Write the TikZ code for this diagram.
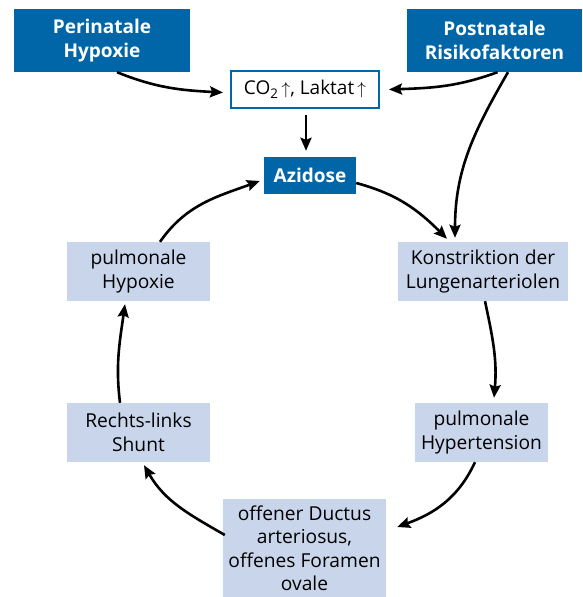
\documentclass[tikz,border=0pt]{standalone}
\usepackage{fontspec}
\setmainfont{Open Sans}
\usetikzlibrary{arrows.meta}
\definecolor{dblue}{HTML}{0066A8}
\definecolor{lblue}{HTML}{C9D5EA}
\begin{document}
\begin{tikzpicture}[x=1pt,y=-1pt,
  dark/.style={fill=dblue,text=white,font=\fontsize{19}{24.5}\selectfont\bfseries,align=center,inner sep=0pt},
  light/.style={fill=lblue,text=black,font=\fontsize{19.2}{23.5}\selectfont,align=center,inner sep=0pt},
  arr/.style={line width=2.6pt,-{Stealth[length=13pt,width=11pt,inset=2pt]}}]
\useasboundingbox (0,0) rectangle (582,597);
\node[dark,minimum width=176pt,minimum height=63pt] (peri) at (102,40.5) {Perinatale\\Hypoxie};
\node[dark,minimum width=175pt,minimum height=63pt] (post) at (494.5,40.5) {Postnatale\\Risikofaktoren};
\node[draw=dblue,line width=2pt,fill=white,minimum width=148pt,minimum height=37pt,inner sep=0pt,font=\fontsize{19}{23}\selectfont] (co2) at (305,89.5) {CO\textsubscript{2}\,$\uparrow$, Laktat\,$\uparrow$};
\node[dark,minimum width=92pt,minimum height=37pt] (azid) at (310,175.5) {Azidose};
\node[light,minimum width=170pt,minimum height=59pt] (konst) at (483,271.5) {Konstriktion der\\Lungenarteriolen};
\node[light,minimum width=133pt,minimum height=59pt] (hyper) at (481.5,432.5) {pulmonale\\Hypertension};
\node[light,minimum width=163pt,minimum height=98pt] (duct) at (304.5,548) {offener Ductus\\arteriosus,\\offenes Foramen\\ovale};
\node[light,minimum width=143pt,minimum height=59pt] (shunt) at (138.5,432.5) {Rechts-links\\Shunt};
\node[light,minimum width=143pt,minimum height=59pt] (phyp) at (138.5,271.5) {pulmonale\\Hypoxie};

\draw[arr] ([xshift=15pt]peri.south) to[out=-22,in=177] ([xshift=-7pt,yshift=-3pt]co2.west);
\draw[arr] ([xshift=3pt]post.south) to[out=200,in=2] ([xshift=9pt]co2.east);
\draw[arr] ([xshift=13.5pt]post.south) to[out=240,in=90] ([xshift=-28pt,yshift=4pt]konst.north);
\draw[arr] ([xshift=1pt,yshift=-6pt]co2.south) -- ([xshift=1pt,yshift=6pt]co2.south |- azid.north);
\draw[arr] ([yshift=-7.5pt]azid.east) to[out=-15,in=135] ([xshift=-36pt,yshift=3pt]konst.north);
\draw[arr] ([xshift=2pt]konst.south) to[out=-78,in=85] ([xshift=12.5pt,yshift=5pt]hyper.north);
\draw[arr] ([xshift=-6.5pt]hyper.south) to[out=-115,in=20] ([xshift=11pt,yshift=21pt]duct.east);
\draw[arr] ([xshift=2pt,yshift=13pt]duct.west) to[out=150,in=-60] ([xshift=5.5pt,yshift=-3pt]shunt.south);
\draw[arr] ([xshift=-18.5pt]shunt.north) to[out=97,in=-98] ([xshift=-13.5pt,yshift=-3pt]phyp.south);
\draw[arr] ([xshift=21.5pt]phyp.north) to[out=55,in=200] ([xshift=-4pt,yshift=-5.5pt]azid.west);
\end{tikzpicture}
\end{document}
